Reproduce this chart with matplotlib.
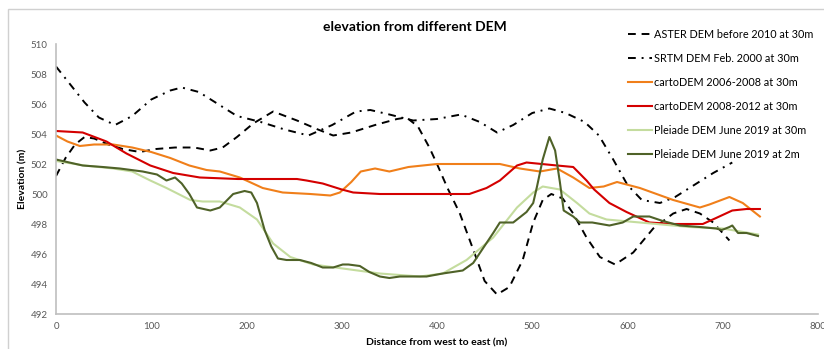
import matplotlib.pyplot as plt
from matplotlib.patches import Rectangle

plt.rcParams["font.family"] = ["Lato", "DejaVu Sans"]

# ASTER DEM before 2010 at 30m
aster_x = [0, 10, 20, 30, 40, 55, 70, 88, 105, 125, 145, 162, 175, 190, 207, 228,
           253, 275, 291, 310, 335, 358, 368, 380, 392, 400, 411, 424, 438, 450, 463,
           476, 490, 501, 511, 520, 532, 543, 557, 571, 587, 606, 627, 648, 662, 676,
           690, 707]
aster_y = [501.2, 502.4, 503.3, 503.8, 503.7, 503.3, 503.0, 502.8, 503.0, 503.1, 503.1,
           502.9, 503.1, 503.8, 504.7, 505.5, 504.9, 504.3, 503.9, 504.1, 504.6, 505.0,
           505.1, 504.5, 503.1, 502.0, 500.4, 498.7, 496.3, 494.2, 493.3, 493.8, 495.6,
           498.1, 499.6, 500.0, 499.7, 498.7, 497.1, 495.8, 495.3, 496.1, 497.7, 498.7,
           499.0, 498.7, 498.1, 496.9]

# SRTM DEM Feb. 2000 at 30m
srtm_x = [0, 15, 30, 45, 62, 80, 100, 120, 132, 150, 170, 190, 215, 240, 265, 290,
          315, 330, 350, 375, 400, 425, 445, 463, 480, 500, 518, 535, 555, 570, 585,
          600, 615, 634, 650, 670, 690, 710]
srtm_y = [508.5, 507.3, 506.1, 505.1, 504.6, 505.2, 506.3, 506.9, 507.1, 506.8, 506.0,
          505.2, 504.8, 504.3, 503.9, 504.6, 505.5, 505.6, 505.3, 504.9, 505.0, 505.3,
          504.8, 504.1, 504.6, 505.4, 505.7, 505.4, 504.8, 503.9, 502.3, 500.6, 499.6,
          499.4, 499.8, 500.6, 501.4, 502.1]

# cartoDEM 2006-2008 at 30m
carto1_x = [0, 12, 25, 40, 60, 80, 100, 120, 140, 158, 172, 193, 217, 238, 267, 288,
            298, 310, 320, 335, 350, 370, 400, 440, 466, 487, 508, 526, 543, 560, 575,
            589, 613, 648, 676, 686, 707, 721, 739]
carto1_y = [503.9, 503.5, 503.2, 503.3, 503.3, 503.1, 502.8, 502.4, 501.9, 501.6, 501.5,
            501.1, 500.4, 500.1, 500.0, 499.9, 500.1, 500.8, 501.5, 501.7, 501.5, 501.8,
            502.0, 502.0, 502.0, 501.7, 501.5, 501.7, 501.1, 500.4, 500.5, 500.8, 500.4,
            499.6, 499.1, 499.3, 499.8, 499.4, 498.5]

# cartoDEM 2008-2012 at 30m
carto2_x = [0, 28, 53, 74, 99, 123, 151, 191, 253, 263, 280, 300, 312, 340, 371, 434,
            452, 466, 484, 494, 526, 543, 557, 565, 581, 599, 623, 648, 679, 693, 710,
            725, 739]
carto2_y = [504.2, 504.1, 503.5, 502.7, 501.9, 501.4, 501.1, 501.0, 501.0, 500.9, 500.7,
            500.3, 500.1, 500.0, 500.0, 500.0, 500.4, 500.9, 501.9, 502.1, 501.9, 501.8,
            500.9, 500.3, 499.4, 498.8, 498.1, 498.0, 498.0, 498.4, 498.9, 499.0, 499.0]

# Pleiade DEM June 2019 at 30m
pl30_x = [0, 30, 60, 80, 99, 116, 141, 154, 172, 193, 211, 228, 246, 270, 305, 340,
          382, 406, 431, 459, 484, 501, 511, 529, 547, 560, 578, 613, 665, 700, 737]
pl30_y = [502.2, 501.9, 501.7, 501.5, 500.9, 500.4, 499.6, 499.5, 499.5, 499.1, 498.3,
          496.7, 495.8, 495.3, 495.0, 494.7, 494.5, 494.7, 495.6, 497.1, 499.1, 500.1,
          500.5, 500.3, 499.4, 498.7, 498.3, 498.1, 497.8, 497.7, 497.3]

# Pleiade DEM June 2019 at 2m
pl2_x = [0, 28, 49, 67, 91, 106, 116, 125, 132, 140, 148, 162, 172, 186, 198, 205, 211,
         219, 226, 233, 242, 256, 268, 280, 291, 301, 307, 319, 329, 340, 350, 361, 371,
         389, 406, 427, 438, 459, 466, 480, 494, 501, 505, 511, 518, 524, 529, 533, 543,
         550, 563, 581, 595, 606, 623, 637, 655, 676, 693, 699, 707, 710, 716, 725, 737]
pl2_y = [502.3, 501.9, 501.8, 501.7, 501.5, 501.3, 500.9, 501.1, 500.7, 500.0, 499.1,
         498.9, 499.1, 500.0, 500.2, 500.1, 499.4, 497.6, 496.5, 495.7, 495.6, 495.6,
         495.4, 495.1, 495.1, 495.3, 495.3, 495.2, 494.8, 494.5, 494.4, 494.5, 494.5,
         494.5, 494.7, 494.9, 495.4, 497.4, 498.1, 498.1, 498.8, 499.4, 500.5, 502.3,
         503.8, 502.9, 500.8, 498.9, 498.5, 498.1, 498.1, 497.9, 498.1, 498.5, 498.5,
         498.2, 497.9, 497.8, 497.7, 497.6, 497.8, 497.9, 497.4, 497.4, 497.2]

fig = plt.figure(figsize=(8.24, 3.49), dpi=100)
ax = fig.add_axes([56 / 824, 35 / 349, 762 / 824, 270 / 349])

# chart-area border (clipped by the image edges)
fig.patches.append(Rectangle((8 / 824, -0.1), 1.2, 0.1 + 340 / 349,
                             transform=fig.transFigure, fill=False,
                             edgecolor="#d0d0d0", lw=1.0))

ax.plot(aster_x, aster_y, color="black", lw=1.4, dashes=(4, 3),
        label="ASTER DEM before 2010 at 30m")
ax.plot(srtm_x, srtm_y, color="black", lw=1.4, dashes=(4, 3, 1, 3),
        label="SRTM DEM Feb. 2000 at 30m")
ax.plot(carto1_x, carto1_y, color="#f07f1a", lw=1.5, label="cartoDEM 2006-2008 at 30m")
ax.plot(carto2_x, carto2_y, color="#d40000", lw=1.5, label="cartoDEM 2008-2012 at 30m")
ax.plot(pl30_x, pl30_y, color="#c4dc9e", lw=1.5, label="Pleiade DEM June 2019 at 30m")
ax.plot(pl2_x, pl2_y, color="#4f6228", lw=1.5, label="Pleiade DEM June 2019 at 2m")

ax.set_xlim(0, 800)
ax.set_ylim(492, 510)
ax.set_xticks(range(0, 801, 100))
ax.set_yticks(range(492, 511, 2))
ax.tick_params(length=0, labelsize=7, labelcolor="#595959", pad=6)
for s in ("top", "right"):
    ax.spines[s].set_visible(False)
for s in ("left", "bottom"):
    ax.spines[s].set_color("#bfbfbf")
    ax.spines[s].set_linewidth(1.2)

ax.set_xlabel("Distance from west to east (m)", fontsize=7.5, fontweight="bold",
              labelpad=5)
ax.set_ylabel("Elevation (m)", fontsize=7.5, fontweight="bold", labelpad=2)
fig.text(415 / 824, 1 - 27 / 349, "elevation from different DEM", ha="center",
         va="center", fontsize=10, fontweight="bold")

ax.legend(loc="upper left", bbox_to_anchor=(628 / 824, 1 - 29 / 349),
          bbox_transform=fig.transFigure, frameon=False, fontsize=7.8,
          handlelength=2.2, handletextpad=0.2, labelspacing=1.2,
          borderpad=0, borderaxespad=0)

fig.savefig("out.png", dpi=100)
